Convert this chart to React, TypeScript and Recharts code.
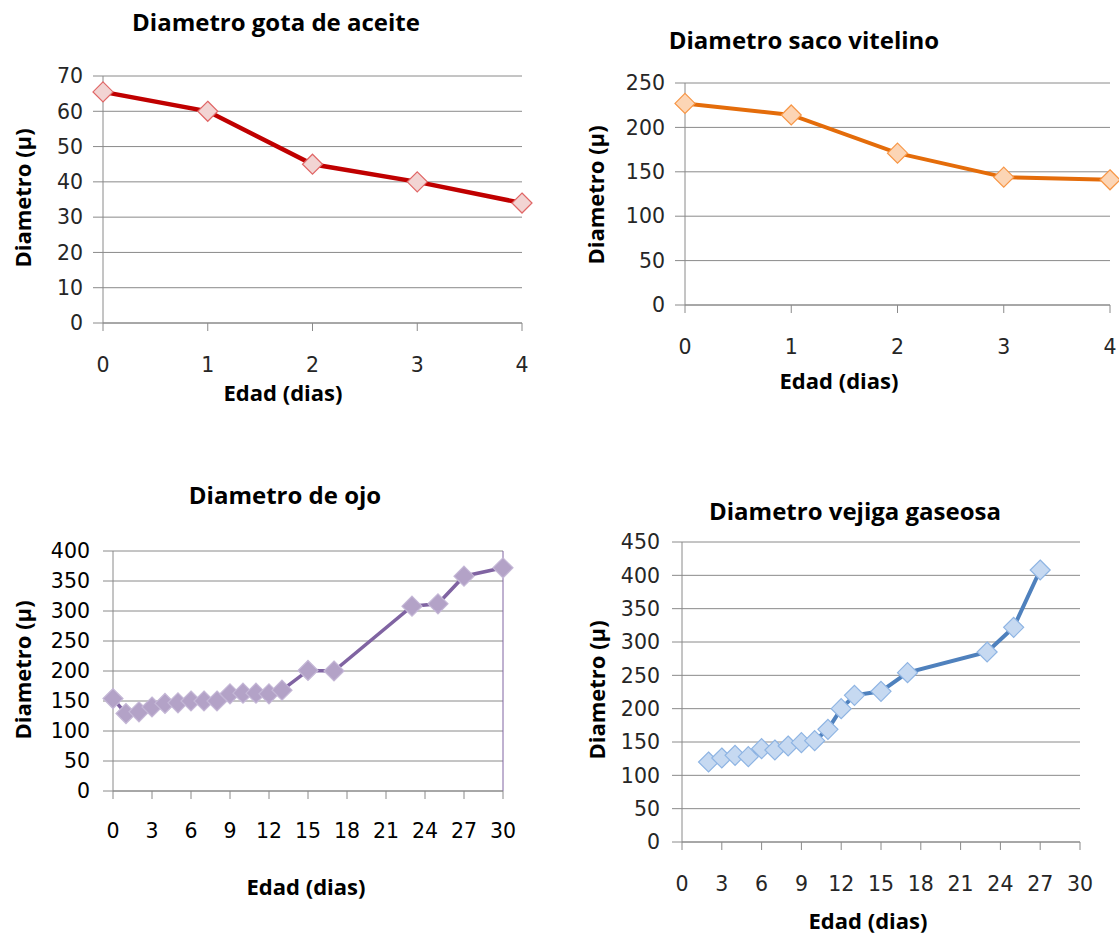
import React from "react";
import {
  LineChart,
  Line,
  XAxis,
  YAxis,
  CartesianGrid,
  ReferenceLine,
} from "recharts";

// Diametro gota de aceite
const gotaDias = [0, 1, 2, 3, 4];
const gotaDiam = [65.5, 60, 45, 40, 34];
const gotaYTicks = [0, 10, 20, 30, 40, 50, 60, 70];

// Diametro saco vitelino
const sacoDias = [0, 1, 2, 3, 4];
const sacoDiam = [227, 214, 171, 144, 141];
const sacoYTicks = [0, 50, 100, 150, 200, 250];

// Diametro de ojo
const ojoDias = [0, 1, 2, 3, 4, 5, 6, 7, 8, 9, 10, 11, 12, 13, 15, 17, 23, 25, 27, 30];
const ojoDiam = [154, 129, 132, 140, 146, 147, 150, 150, 150, 162, 163, 163, 162, 168, 201, 200, 308, 312, 358, 372];
const ojoYTicks = [0, 50, 100, 150, 200, 250, 300, 350, 400];

// Diametro vejiga gaseosa
const vejigaDias = [2, 3, 4, 5, 6, 7, 8, 9, 10, 11, 12, 13, 15, 17, 23, 25, 27];
const vejigaDiam = [120, 126, 130, 128, 140, 138, 144, 149, 152, 169, 200, 220, 226, 254, 285, 322, 408];
const vejigaYTicks = [0, 50, 100, 150, 200, 250, 300, 350, 400, 450];

const diasTicks4 = [0, 1, 2, 3, 4];
const diasTicks30 = [0, 3, 6, 9, 12, 15, 18, 21, 24, 27, 30];

const TICK_FONT = "'DejaVu Sans', sans-serif";
const LABEL_FONT = "'Open Sans', sans-serif";
const GRID = "#8a8a8a";

const toRows = (xs: number[], ys: number[]) => xs.map((x, i) => ({ x, y: ys[i] }));

const Diamond = (fill: string, stroke: string, r: number) => (props: any) => {
  const { cx, cy, index } = props;
  if (cx == null || cy == null) return null;
  return (
    <polygon
      key={index}
      points={`${cx},${cy - r} ${cx + r},${cy} ${cx},${cy + r} ${cx - r},${cy}`}
      fill={fill}
      stroke={stroke}
      strokeWidth={1.2}
    />
  );
};

type PanelProps = {
  box: { left: number; top: number; width: number; height: number };
  plot: { left: number; top: number; right: number; bottom: number };
  data: { x: number; y: number }[];
  xTicks: number[];
  yTicks: number[];
  color: string;
  lineWidth: number;
  dotFill: string;
  dotStroke: string;
  dotSize: number;
  xTickMargin: number;
  yTickMargin: number;
  tickFill: string;
  rightLine?: string;
};

const Panel = (p: PanelProps) => {
  const { box, plot } = p;
  const margin = {
    top: plot.top - box.top,
    right: box.left + box.width - plot.right,
    left: 0,
    bottom: 0,
  };
  const yW = plot.left - box.left;
  const xH = box.top + box.height - plot.bottom;
  const tick = { fontSize: 20.5, fill: p.tickFill, fontFamily: TICK_FONT };
  return (
    <div style={{ position: "absolute", left: box.left, top: box.top }}>
      <LineChart width={box.width} height={box.height} data={p.data} margin={margin}>
        <CartesianGrid vertical={false} stroke={GRID} />
        <XAxis
          type="number"
          dataKey="x"
          domain={[p.xTicks[0], p.xTicks[p.xTicks.length - 1]]}
          ticks={p.xTicks}
          interval={0}
          height={xH}
          tickSize={8}
          tickMargin={p.xTickMargin}
          stroke={GRID}
          tick={tick}
        />
        <YAxis
          type="number"
          domain={[p.yTicks[0], p.yTicks[p.yTicks.length - 1]]}
          ticks={p.yTicks}
          interval={0}
          width={yW}
          tickSize={10}
          tickMargin={p.yTickMargin}
          stroke={GRID}
          tick={tick}
        />
        {p.rightLine && (
          <ReferenceLine x={p.xTicks[p.xTicks.length - 1]} stroke={p.rightLine} strokeWidth={1} />
        )}
        <Line
          type="linear"
          dataKey="y"
          stroke={p.color}
          strokeWidth={p.lineWidth}
          dot={Diamond(p.dotFill, p.dotStroke, p.dotSize)}
          activeDot={false}
          isAnimationActive={false}
        />
      </LineChart>
    </div>
  );
};

const Txt = ({ x, y, text, size, rotate }: { x: number; y: number; text: string; size: number; rotate?: boolean }) => (
  <div
    style={{
      position: "absolute",
      left: x,
      top: y,
      transform: `translate(-50%, -50%)${rotate ? " rotate(-90deg)" : ""}`,
      fontFamily: LABEL_FONT,
      fontWeight: 700,
      fontSize: size,
      color: "#000",
      whiteSpace: "nowrap",
      lineHeight: 1,
    }}
  >
    {text}
  </div>
);

export default function App() {
  return (
    <div
      style={{
        position: "absolute",
        left: 0,
        top: 0,
        width: 1119,
        height: 937,
        background: "#fff",
        overflow: "hidden",
      }}
    >
      <Panel
        box={{ left: 0, top: 0, width: 545, height: 420 }}
        plot={{ left: 103, top: 76, right: 522, bottom: 323 }}
        data={toRows(gotaDias, gotaDiam)}
        xTicks={diasTicks4}
        yTicks={gotaYTicks}
        color="#c00000"
        lineWidth={4.5}
        dotFill="#f2d4d3"
        dotStroke="#e06666"
        dotSize={10}
        xTickMargin={26}
        yTickMargin={10}
        tickFill="#262626"
      />
      <Panel
        box={{ left: 560, top: 0, width: 559, height: 420 }}
        plot={{ left: 685, top: 83, right: 1110, bottom: 305 }}
        data={toRows(sacoDias, sacoDiam)}
        xTicks={diasTicks4}
        yTicks={sacoYTicks}
        color="#e46c0a"
        lineWidth={4}
        dotFill="#fcd5b5"
        dotStroke="#f79646"
        dotSize={10}
        xTickMargin={26}
        yTickMargin={10}
        tickFill="#262626"
      />
      <Panel
        box={{ left: 0, top: 470, width: 545, height: 467 }}
        plot={{ left: 113, top: 551, right: 503, bottom: 791 }}
        data={toRows(ojoDias, ojoDiam)}
        xTicks={diasTicks30}
        yTicks={ojoYTicks}
        color="#8064a2"
        lineWidth={3.5}
        dotFill="#b3a2c7"
        dotStroke="#c4b7d6"
        dotSize={10}
        xTickMargin={24}
        yTickMargin={13}
        tickFill="#000"
        rightLine="#8064a2"
      />
      <Panel
        box={{ left: 560, top: 470, width: 559, height: 467 }}
        plot={{ left: 682, top: 542, right: 1080, bottom: 842 }}
        data={toRows(vejigaDias, vejigaDiam)}
        xTicks={diasTicks30}
        yTicks={vejigaYTicks}
        color="#4f81bd"
        lineWidth={4}
        dotFill="#c6d9f1"
        dotStroke="#8eb4e3"
        dotSize={10}
        xTickMargin={26}
        yTickMargin={12}
        tickFill="#262626"
      />

      <Txt x={276} y={22} text="Diametro gota de aceite" size={24} />
      <Txt x={804} y={40} text="Diametro saco vitelino" size={24} />
      <Txt x={285} y={495} text="Diametro de ojo" size={24} />
      <Txt x={855} y={511} text="Diametro vejiga gaseosa" size={24} />

      <Txt x={22} y={198} text="Diametro (µ)" size={22} rotate />
      <Txt x={595} y={195} text="Diametro (µ)" size={22} rotate />
      <Txt x={22} y={670} text="Diametro (µ)" size={22} rotate />
      <Txt x={596} y={690} text="Diametro (µ)" size={22} rotate />

      <Txt x={283} y={392} text="Edad (dias)" size={22} />
      <Txt x={839} y={380} text="Edad (dias)" size={22} />
      <Txt x={306} y={886} text="Edad (dias)" size={22} />
      <Txt x={868} y={920} text="Edad (dias)" size={22} />
    </div>
  );
}
